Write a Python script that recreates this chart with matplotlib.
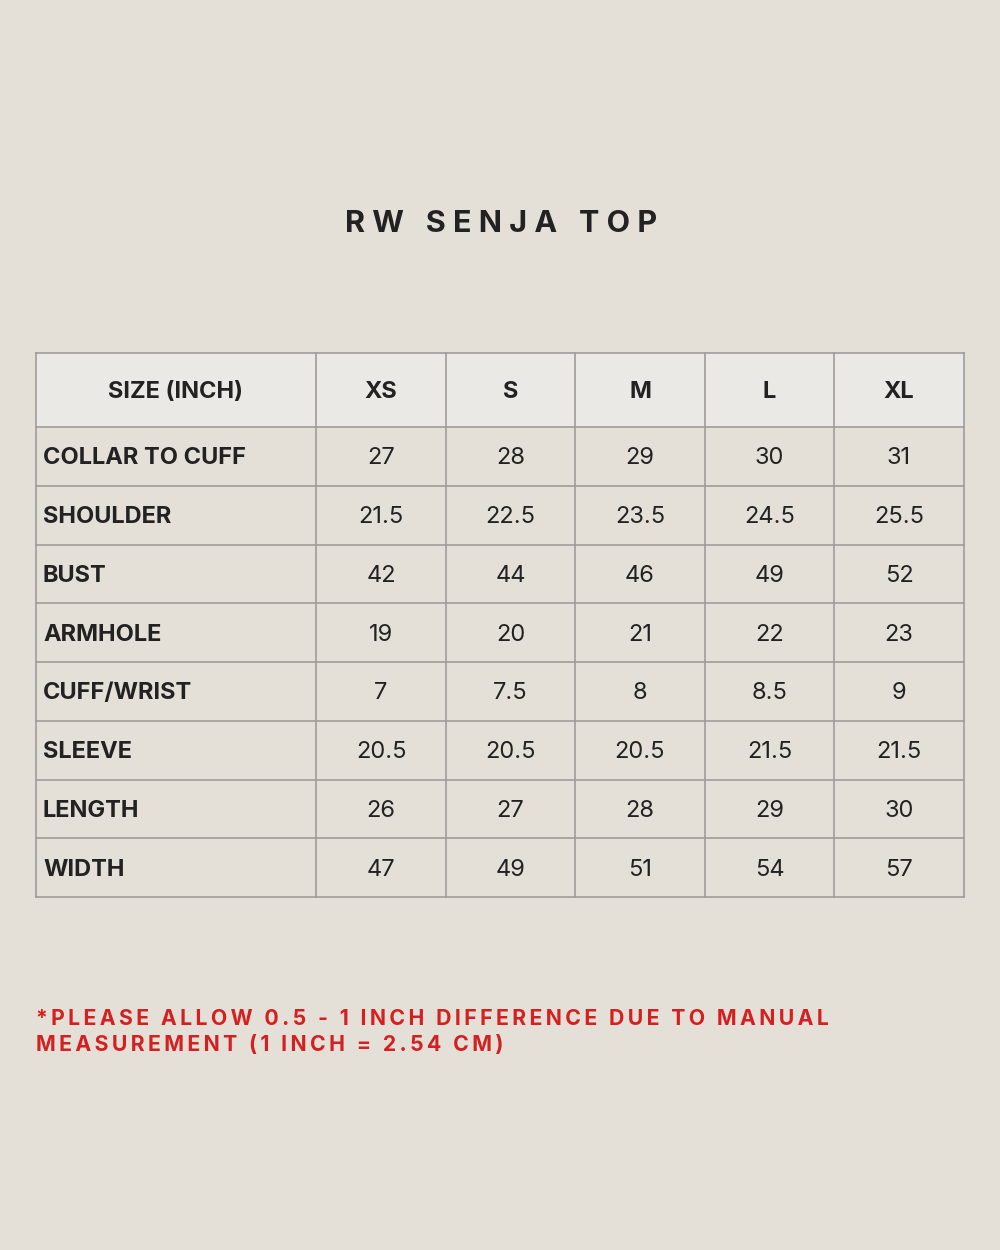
import matplotlib
matplotlib.use("Agg")
import matplotlib.pyplot as plt
from matplotlib.patches import Rectangle

plt.rcParams['font.family'] = ['Inter', 'DejaVu Sans']

title = "RW SENJA TOP"
sizes = ["XS", "S", "M", "L", "XL"]
measures = ["COLLAR TO CUFF", "SHOULDER", "BUST", "ARMHOLE", "CUFF/WRIST",
            "SLEEVE", "LENGTH", "WIDTH"]
values = [
    ["27", "28", "29", "30", "31"],
    ["21.5", "22.5", "23.5", "24.5", "25.5"],
    ["42", "44", "46", "49", "52"],
    ["19", "20", "21", "22", "23"],
    ["7", "7.5", "8", "8.5", "9"],
    ["20.5", "20.5", "20.5", "21.5", "21.5"],
    ["26", "27", "28", "29", "30"],
    ["47", "49", "51", "54", "57"],
]
note = ["*PLEASE ALLOW 0.5 - 1 INCH DIFFERENCE DUE TO MANUAL",
        "MEASUREMENT (1 INCH = 2.54 CM)"]

BG = "#e4e0d7"
HEAD = "#ebe9e5"
LINE = "#a09c9c"
INK = "#222222"
RED = "#d42020"


def spaced(s, gap=" "):
    return gap.join(s)


fig = plt.figure(figsize=(10, 12.5), dpi=100, facecolor=BG)
ax = fig.add_axes([0, 0, 1, 1])
ax.set_xlim(0, 1000)
ax.set_ylim(1250, 0)
ax.axis("off")

ax.text(501, 224, spaced(title), ha="center", va="center", fontsize=22,
        fontweight="bold", color=INK)

col_x = [36, 316, 446, 575, 705, 834, 964]
top, head_h, row_h = 353, 74, 58.75
row_y = [top, top + head_h] + [top + head_h + row_h * (i + 1) for i in range(len(measures))]

ax.add_patch(Rectangle((col_x[0], top), col_x[-1] - col_x[0], head_h,
                       facecolor=HEAD, edgecolor="none"))
for y in row_y:
    ax.plot([col_x[0], col_x[-1]], [y, y], color=LINE, lw=1.2)
for x in col_x:
    ax.plot([x, x], [row_y[0], row_y[-1]], color=LINE, lw=1.2)

hy = top + head_h / 2 + 2
ax.text((col_x[0] + col_x[1]) / 2, hy, "SIZE (INCH)", ha="center", va="center",
        fontsize=17, fontweight="bold", color=INK)
for j, s in enumerate(sizes):
    ax.text((col_x[j + 1] + col_x[j + 2]) / 2, hy, s, ha="center", va="center",
            fontsize=17, fontweight="bold", color=INK)

for i, m in enumerate(measures):
    cy = (row_y[i + 1] + row_y[i + 2]) / 2 + 2
    ax.text(col_x[0] + 7, cy, m, ha="left", va="center", fontsize=17,
            fontweight="bold", color=INK)
    for j, v in enumerate(values[i]):
        ax.text((col_x[j + 1] + col_x[j + 2]) / 2, cy, v, ha="center",
                va="center", fontsize=17, color=INK)

for k, line in enumerate(note):
    ax.text(36, 1019 + 26 * k, spaced(line, "\u2009"), ha="left", va="center",
            fontsize=15.3, fontweight="bold", color=RED)

fig.savefig("out.png", dpi=100, facecolor=BG)
